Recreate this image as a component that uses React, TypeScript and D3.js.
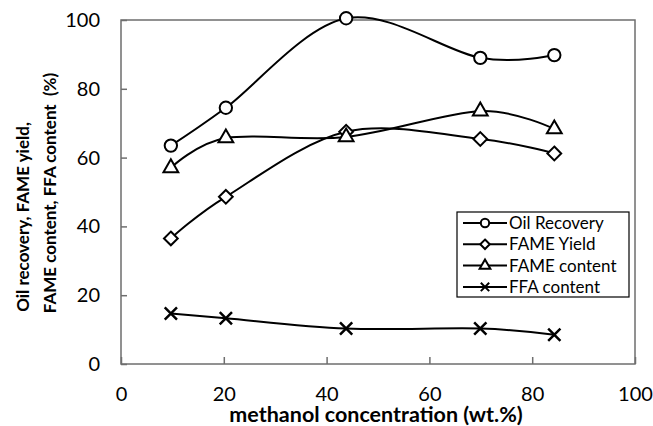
import { useEffect, useRef } from "react";
import * as d3 from "d3";

// methanol concentration (wt.%)
const methanol = [9.7, 20.4, 43.8, 69.9, 84.3];

const oilRecovery = [63.5, 74.5, 100.5, 89, 89.8];
const fameYield = [36.5, 48.6, 67.5, 65.4, 61.2];
const fameContent = [57, 65.7, 66, 73.5, 68.3];
const ffaContent = [14.7, 13.3, 10.3, 10.3, 8.5];

const seriesNames = ["Oil Recovery", "FAME Yield", "FAME content", "FFA content"];
const xTicks = [0, 20, 40, 60, 80, 100];
const yTicks = [0, 20, 40, 60, 80, 100];

const FONT = "Lato, 'Open Sans', sans-serif";

// diamond = square turned by 45 degrees
const symbolDiamondSq = {
  draw(context: any, size: number) {
    const h = Math.sqrt(size) / Math.SQRT2;
    context.moveTo(0, -h);
    context.lineTo(h, 0);
    context.lineTo(0, h);
    context.lineTo(-h, 0);
    context.closePath();
  },
};

const symbolCross = {
  draw(context: any, size: number) {
    const h = Math.sqrt(size) / 2;
    context.moveTo(-h, -h);
    context.lineTo(h, h);
    context.moveTo(h, -h);
    context.lineTo(-h, h);
  },
};

function App() {
  const svgRef = useRef<SVGSVGElement | null>(null);

  useEffect(() => {
    document.body.style.margin = "0";
    if (!svgRef.current) return;

    const width = 653;
    const height = 426;
    const margin = { top: 20, right: 18, bottom: 62, left: 121 };
    const innerWidth = width - margin.left - margin.right;
    const innerHeight = height - margin.top - margin.bottom;

    const svg = d3.select(svgRef.current);
    svg.selectAll("*").remove();
    svg.attr("width", width).attr("height", height);

    svg.append("rect").attr("width", width).attr("height", height).attr("fill", "#fff");

    const g = svg.append("g").attr("transform", `translate(${margin.left},${margin.top})`);

    const xScale = d3.scaleLinear().domain([0, 100]).range([0, innerWidth]);
    const yScale = d3.scaleLinear().domain([0, 100]).range([innerHeight, 0]);

    const axisColor = "#6e6e6e";

    // frame
    g.append("rect")
      .attr("width", innerWidth)
      .attr("height", innerHeight)
      .attr("fill", "none")
      .attr("stroke", axisColor)
      .attr("stroke-width", 1.5);

    // X axis (ticks inside)
    const xAxisGroup = g.append("g")
      .attr("transform", `translate(0, ${innerHeight})`)
      .call(d3.axisBottom(xScale).tickValues(xTicks).tickSizeInner(-7).tickSizeOuter(0).tickPadding(23));
    xAxisGroup.select(".domain").remove();
    xAxisGroup.selectAll("line").style("stroke", axisColor).style("stroke-width", 1.5);
    xAxisGroup.selectAll("text")
      .style("font-family", FONT)
      .style("font-size", "20px")
      .style("fill", "#000");

    // Y axis (ticks inside)
    const yAxisGroup = g.append("g")
      .call(d3.axisLeft(yScale).tickValues(yTicks).tickSizeInner(-6).tickSizeOuter(0).tickPadding(21));
    yAxisGroup.select(".domain").remove();
    yAxisGroup.selectAll("line").style("stroke", axisColor).style("stroke-width", 1.5);
    yAxisGroup.selectAll("text")
      .style("font-family", FONT)
      .style("font-size", "20px")
      .style("fill", "#000");

    const allSeries = [oilRecovery, fameYield, fameContent, ffaContent];
    const symbols: any[] = [d3.symbolCircle, symbolDiamondSq, d3.symbolTriangle, symbolCross];
    const sizes = [120, 95, 95, 150];

    const line = d3.line<number>()
      .x((d, i) => xScale(methanol[i]))
      .y(d => yScale(d))
      .curve(d3.curveCardinal.tension(0));

    allSeries.forEach((values, s) => {
      g.append("path")
        .datum(values)
        .attr("fill", "none")
        .attr("stroke", "#000")
        .attr("stroke-width", 2)
        .attr("d", line);

      g.selectAll(`.m${s}`)
        .data(values)
        .enter()
        .append("path")
        .attr("transform", (d, i) => `translate(${xScale(methanol[i])},${yScale(d)})`)
        .attr("d", d3.symbol().type(symbols[s]).size(sizes[s])())
        .attr("fill", s === 3 ? "none" : "#fff")
        .attr("stroke", "#000")
        .attr("stroke-width", s === 3 ? 2.5 : 2);
    });

    // legend
    const legend = svg.append("g").attr("transform", "translate(457,212)");
    legend.append("rect")
      .attr("width", 172)
      .attr("height", 85)
      .attr("fill", "#fff")
      .attr("stroke", "#000")
      .attr("stroke-width", 1.2);

    const legendSizes = [55, 45, 50, 70];
    seriesNames.forEach((name, s) => {
      const y = 11 + s * 21.3;
      legend.append("line")
        .attr("x1", 6).attr("x2", 50)
        .attr("y1", y).attr("y2", y)
        .attr("stroke", "#000").attr("stroke-width", 2);
      legend.append("path")
        .attr("transform", `translate(28,${y})`)
        .attr("d", d3.symbol().type(symbols[s]).size(legendSizes[s])())
        .attr("fill", s === 3 ? "none" : "#fff")
        .attr("stroke", "#000")
        .attr("stroke-width", 2);
      legend.append("text")
        .attr("x", 52)
        .attr("y", y)
        .attr("dy", "0.35em")
        .style("font-family", FONT)
        .style("font-size", "17px")
        .style("fill", "#000")
        .text(name);
    });

    // X axis label
    svg.append("text")
      .attr("x", 376)
      .attr("y", 422)
      .attr("text-anchor", "middle")
      .style("font-family", FONT)
      .style("font-size", "21.5px")
      .style("font-weight", "bold")
      .style("fill", "#000")
      .text("methanol concentration (wt.%)");

    // Y axis label, two lines
    svg.append("text")
      .attr("transform", "translate(23,217) rotate(-90)")
      .attr("text-anchor", "middle")
      .attr("dy", "0.35em")
      .style("font-family", FONT)
      .style("font-size", "17px")
      .style("font-weight", "bold")
      .style("fill", "#000")
      .text("Oil recovery, FAME yield,");

    svg.append("text")
      .attr("transform", "translate(50,193) rotate(-90)")
      .attr("text-anchor", "middle")
      .attr("dy", "0.35em")
      .style("font-family", FONT)
      .style("font-size", "17px")
      .style("font-weight", "bold")
      .style("fill", "#000")
      .style("white-space", "pre")
      .text("FAME content, FFA content  (%)");
  }, []);

  return <svg ref={svgRef} style={{ display: "block" }}></svg>;
}

export default App;
